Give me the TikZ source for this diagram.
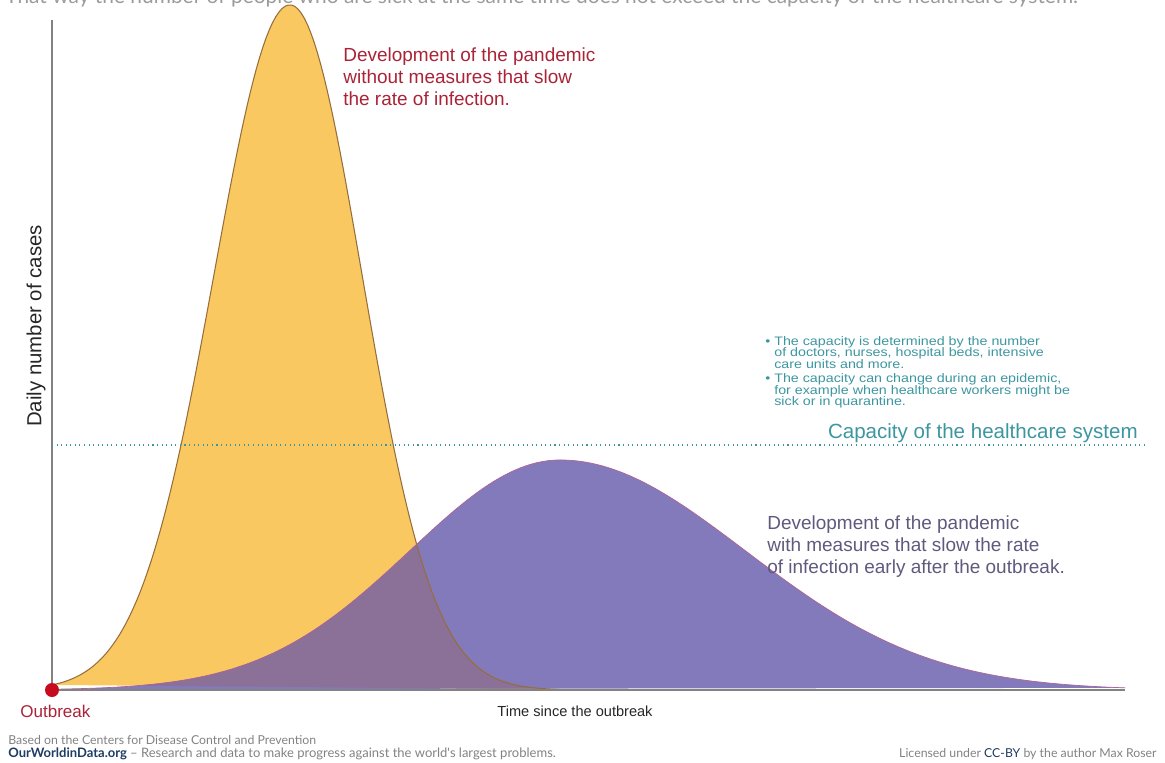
\documentclass[tikz,border=0pt]{standalone}
\usepackage{fontspec}
\setmainfont{Liberation Sans}
\newfontfamily\owidfont{Lato}
\usepackage{xcolor}
\definecolor{yel}{RGB}{249, 200, 96}
\definecolor{yeledge}{RGB}{150, 110, 60}
\definecolor{pur}{RGB}{131, 122, 187}
\definecolor{puredge}{RGB}{175, 100, 150}
\definecolor{mix}{RGB}{139, 112, 152}
\definecolor{redtxt}{RGB}{170, 35, 55}
\definecolor{dotred}{RGB}{200, 10, 30}
\definecolor{purtxt}{RGB}{95, 90, 125}
\definecolor{capcol}{RGB}{60, 150, 160}
\definecolor{gr}{RGB}{130, 130, 130}
\definecolor{owid}{RGB}{30, 60, 100}

\begin{document}
\begin{tikzpicture}[x=0.02cm, y=-0.02cm,
        declare function={fa(\t)=690-685*exp(-((\t-290)/(\t<290 ? 76 : 72))^2/2);
                          fb(\t)=690-230*exp(-((\t-560)/(\t<560 ? 150 : 185))^2/2);},
        lab/.style={anchor=north west, inner sep=0, align=left, font=\fontsize{10.8}{12.5}\selectfont},
        foot/.style={inner sep=0, font=\owidfont\fontsize{7}{8}\selectfont, text=gr}]
        \useasboundingbox (0,0) rectangle (1165,763);
        \clip (0,0) rectangle (1165,763);
        % the two curves
        \fill[yel] plot[domain=52:560, samples=160] (\x,{fa(\x)}) -- cycle;
        \fill[pur] plot[domain=52:1125, samples=200] (\x,{fb(\x)}) -- cycle;
        \begin{scope}
            \clip plot[domain=52:560, samples=160] (\x,{fa(\x)}) -- cycle;
            \fill[mix] plot[domain=52:1125, samples=200] (\x,{fb(\x)}) -- cycle;
        \end{scope}
        \draw[yeledge, line width=0.6pt] plot[domain=52:560, samples=160] (\x,{fa(\x)});
        \draw[puredge, line width=0.4pt] plot[domain=52:1125, samples=200] (\x,{fb(\x)});
        % axes and capacity
        \coordinate (o) at (52,690);
        \coordinate (ytop) at (52,20);
        \coordinate (xend) at (1125,690);
        \coordinate (cap0) at (52,445);
        \coordinate (cap1) at (1145,445);
        \draw[gr, line width=0.8pt] (ytop) -- (o) -- (xend);
        \draw[capcol, dotted, line width=0.6pt] (cap0) -- (cap1);
        \node[circle, fill=dotred, inner sep=0, minimum size=0.28cm] (dot) at (o) {};
        % labels
        \node[lab, text=redtxt] (nomeasures) at (343,47) {Development of the pandemic\\without measures that slow\\the rate of infection.};
        \node[lab, text=purtxt] (measures) at (767,515) {Development of the pandemic\\with measures that slow the rate\\of infection early after the outbreak.};
        \node[anchor=base east, inner sep=0, text=capcol, font=\fontsize{11.7}{14}\selectfont] (capacity) at (1138,438) {Capacity of the healthcare system};
        \node[anchor=north west, inner sep=0, text=capcol] (notes) at (765,336) {\scalebox{1.16}[1]{\parbox[t]{170pt}{\raggedright\fontsize{7}{6.6}\selectfont\lineskiplimit=-5pt
            \textbullet\ The capacity is determined by the number\\
            \phantom{\textbullet\ }of doctors, nurses, hospital beds, intensive\\
            \phantom{\textbullet\ }care units and more.\\[1.5pt]
            \textbullet\ The capacity can change during an epidemic,\\
            \phantom{\textbullet\ }for example when healthcare workers might be\\
            \phantom{\textbullet\ }sick or in quarantine.}}};
        \node[rotate=90, inner sep=0, text=black!85, font=\fontsize{11.6}{13}\selectfont] (ylab) at (36,326) {Daily number of cases};
        \node[anchor=base west, inner sep=0, text=redtxt, font=\fontsize{9.7}{11}\selectfont] (outbreak) at (20,717) {Outbreak};
        \node[anchor=base, inner sep=0, text=black!85, font=\fontsize{8.3}{10}\selectfont] (time) at (575,716) {Time since the outbreak};
        % top line and footer
        \node[anchor=base west, inner sep=0, text=gr!80, font=\owidfont\fontsize{11.9}{13}\selectfont] (subtitle) at (5,4) {That way the number of people who are sick at the same time does not exceed the capacity of the healthcare system.};
        \node[foot, anchor=base west] (source) at (8,744) {Based on the Centers for Disease Control and Prevention};
        \node[foot, anchor=base west, font=\owidfont\fontsize{7.4}{8}\selectfont] (owidline) at (8,757) {{\color{owid}\bfseries OurWorldinData.org} \textendash\ Research and data to make progress against the world's largest problems.};
        \node[foot, anchor=base east] (licence) at (1157,757) {Licensed under {\color{owid}CC-BY} by the author Max Roser};
\end{tikzpicture}
\end{document}
